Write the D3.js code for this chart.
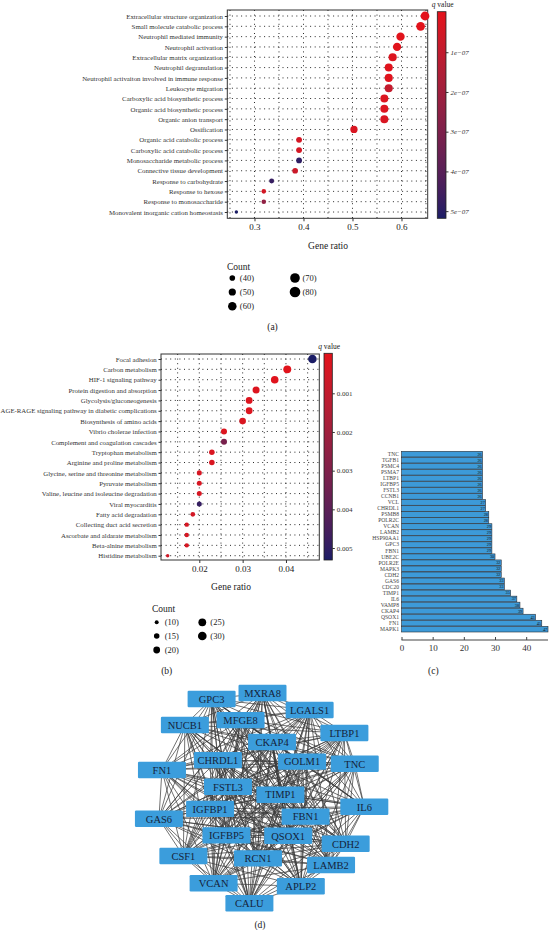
<!DOCTYPE html>
<html><head><meta charset="utf-8">
<script src="https://cdn.jsdelivr.net/npm/d3@7"></script>
<style>
body{margin:0;background:#fff}
svg{display:block}
text{font-family:"Liberation Serif","DejaVu Serif",serif}
</style>
</head><body>
<svg id="fig" width="549" height="930"></svg>
<script>
// ---------------- Panel (a): GO enrichment ----------------
const goTerms = ["Extracellular structure organization","Small molecule catabolic process","Neutrophil mediated immunity","Neutrophil activation","Extracellular matrix organization","Neutrophil degranulation","Neutrophil activaiton involved in immune response","Leukocyte migration","Carboxylic acid biosynthetic process","Organic acid biosynthetic process","Organic anion transport","Ossification","Organic acid catabolic process","Carboxylic acid catabolic process","Monosaccharide metabolic process","Connective tissue development","Response to carbohydrate","Response to hexose","Response to monosaccharide","Monovalent inorganic cation homeostasis"];
const goRatio = [0.648,0.639,0.598,0.591,0.582,0.574,0.574,0.574,0.565,0.565,0.565,0.503,0.391,0.391,0.391,0.383,0.335,0.319,0.319,0.263];
const goCount = [81,80,75,74,73,72,72,72,71,71,71,63,49,49,49,48,42,40,40,33];
const goQ = [1e-9,2e-9,5e-9,5e-9,2e-8,1e-8,1e-8,9e-8,2e-8,2e-8,3e-8,3e-8,4e-8,4e-8,4.9e-7,7e-8,4.75e-7,5e-8,2.4e-7,5.18e-7];
const goXTicks = [0.3,0.4,0.5,0.6];
const goGrid = [0.25,0.3,0.35,0.4,0.45,0.5,0.55,0.6,0.65];
const goQTicks = [1e-7,2e-7,3e-7,4e-7,5e-7];
const goQLabels = ["1e\u221207","2e\u221207","3e\u221207","4e\u221207","5e\u221207"];
const goLegendCounts = [40,50,60,70,80];

// ---------------- Panel (b): KEGG enrichment ----------------
const keggTerms = ["Focal adhesion","Carbon metabolism","HIF-1 signaling pathway","Protein digestion and absorption","Glycolysis/gluconeogenesis","AGE-RAGE signaling pathway in diabetic complications","Biosynthesis of amino acids","Vibrio cholerae infection","Complement and coagulation cascades","Tryptophan metabolism","Arginine and proline metabolism","Glycine, serine and threonine metabolism","Pyruvate metabolism","Valine, leucine and isoleucine degradation","Viral myocarditis","Fatty acid degradation","Collecting duct acid secretion","Ascorbate and aldarate metabolism","Beta-alnine metabolism","Histidine metabolism"];
const keggRatio = [0.0461,0.0403,0.0374,0.0331,0.0315,0.0315,0.0300,0.0257,0.0257,0.0229,0.0229,0.0200,0.0200,0.0200,0.0200,0.0185,0.0171,0.0171,0.0171,0.0127];
const keggCount = [32,28,26,23,22,22,21,18,18,16,16,14,14,14,14,13,12,12,12,9];
const keggQ = [0.0053,0.00005,0.0001,0.0002,0.0002,0.0002,0.0003,0.0002,0.0032,0.0003,0.0003,0.0004,0.0004,0.0004,0.0049,0.0005,0.0004,0.0004,0.0004,0.0006];
const keggXTicks = [0.02,0.03,0.04];
const keggGrid = [0.015,0.02,0.025,0.03,0.035,0.04,0.045];
const keggQTicks = [0.001,0.002,0.003,0.004,0.005];
const keggQLabels = ["0.001","0.002","0.003","0.004","0.005"];
const keggLegendCounts = [10,15,20,25,30];

// ---------------- Panel (c): hub gene degree ----------------
const hubGenes = ["TNC","TGFB1","PSMC4","PSMA7","LTBP1","IGFBP5","FSTL3","CCNB1","VCL","CHRDL1","PSMB8","POLR2C","VCAN","LAMB2","HSP90AA1","GPC3","FBN1","UBE2C","POLR2E","MAPK3","CDH2","GAS6","CDC20","TIMP1","IL6","VAMP8","CKAP4","QSOX1","FN1","MAPK1"];
const hubDegree = [26,26,26,26,26,26,26,26,27,27,28,28,29,29,29,29,29,30,32,32,32,33,33,35,37,38,39,43,45,47];
const hubTicks = [0,10,20,30,40];

// ---------------- Panel (d): PPI network (layout units 0-100) ----------------
const netNodes = ["GPC3","MXRA8","LGALS1","NUCB1","MFGE8","LTBP1","CKAP4","CHRDL1","GOLM1","TNC","FN1","FSTL3","TIMP1","IL6","IGFBP1","GAS6","FBN1","IGFBP5","QSOX1","CDH2","CSF1","RCN1","LAMB2","VCAN","APLP2","CALU"];
const netX = [30.0,50.2,68.9,19.4,41.5,82.7,54.0,32.5,65.9,86.8,10.3,36.5,57.3,90.6,29.4,9.1,67.3,35.9,60.4,83.2,18.8,48.4,77.4,30.8,65.4,45.0];
const netY = [4.2,1.4,9.3,16.3,14.0,20.0,24.2,32.6,33.3,34.3,37.2,45.0,48.7,54.3,55.3,59.9,58.9,67.6,67.8,71.5,77.2,78.3,81.4,89.9,91.3,99.2];

const RED = "#e3121b", NAVY = "#1b1d66";
const svg = d3.select("#fig");

function dotPanel(cfg){
  const g = svg.append("g");
  const x = d3.scaleLinear().domain(cfg.xDomain).range([cfg.x0, cfg.x1]);
  const y = d3.scalePoint().domain(cfg.terms).range([cfg.rowTop, cfg.rowBot]);
  const area = d3.scaleLinear().domain(cfg.countDomain).range(cfg.areaRange);
  const r = c => Math.sqrt(Math.max(area(c), 0.5));
  const col = d3.scaleLinear().domain(cfg.colDomain).range([RED, NAVY]).interpolate(d3.interpolateLab).clamp(true);

  // grid
  g.append("g").selectAll("line").data(cfg.terms).join("line")
    .attr("x1", cfg.x0).attr("x2", cfg.x1).attr("y1", d => y(d)).attr("y2", d => y(d))
    .attr("stroke", "#111").attr("stroke-width", 0.9).attr("stroke-dasharray", "1 3.6");
  g.append("g").selectAll("line").data(cfg.grid).join("line")
    .attr("x1", d => x(d)).attr("x2", d => x(d)).attr("y1", cfg.y0).attr("y2", cfg.y1)
    .attr("stroke", "#111").attr("stroke-width", 0.9).attr("stroke-dasharray", "1 3.6");
  // border
  g.append("rect").attr("x", cfg.x0).attr("y", cfg.y0).attr("width", cfg.x1 - cfg.x0).attr("height", cfg.y1 - cfg.y0)
    .attr("fill", "none").attr("stroke", "#333").attr("stroke-width", 1);
  // dots
  const data = cfg.terms.map((t, i) => ({t, v: cfg.ratio[i], c: cfg.count[i], q: cfg.q[i]}));
  g.append("g").selectAll("circle").data(data).join("circle")
    .attr("cx", d => x(d.v)).attr("cy", d => y(d.t)).attr("r", d => r(d.c)).attr("fill", d => col(d.q));
  // y axis
  const ya = g.append("g").attr("transform", `translate(${cfg.x0},0)`).call(d3.axisLeft(y).tickSize(2.5).tickPadding(1.8));
  ya.select(".domain").remove();
  ya.selectAll("line").attr("stroke", "#333");
  ya.selectAll("text").attr("font-size", cfg.labelSize).attr("fill", "#333");
  // x axis
  const xa = g.append("g").attr("transform", `translate(0,${cfg.y1})`).call(d3.axisBottom(x).tickValues(cfg.xTicks).tickFormat(d3.format(cfg.fmt)).tickSize(3).tickPadding(2.5));
  xa.select(".domain").remove();
  xa.selectAll("line").attr("stroke", "#333");
  xa.selectAll("text").attr("font-size", 9).attr("fill", "#222");
  g.append("text").attr("x", cfg.titleX).attr("y", cfg.titleY).attr("text-anchor", "middle").attr("font-size", 9.5).attr("fill", "#222").text("Gene ratio");

  // colorbar
  const cb = cfg.cbar;
  const cy = d3.scaleLinear().domain(cb.domain).range([cb.top, cb.bottom]);
  const gid = "grad" + cfg.id;
  const grad = svg.append("defs").append("linearGradient").attr("id", gid).attr("x1", 0).attr("x2", 0).attr("y1", 0).attr("y2", 1);
  d3.range(0, 1.0001, 0.05).forEach(t => {
    const q = cb.domain[0] + t * (cb.domain[1] - cb.domain[0]);
    grad.append("stop").attr("offset", t).attr("stop-color", col(q));
  });
  g.append("rect").attr("x", cb.x).attr("y", cb.top).attr("width", cb.w).attr("height", cb.bottom - cb.top)
    .attr("fill", `url(#${gid})`).attr("stroke", "#222").attr("stroke-width", 0.8);
  const ca = g.append("g").attr("transform", `translate(${cb.x + cb.w},0)`)
    .call(d3.axisRight(cy).tickValues(cb.ticks).tickFormat((d, i) => cb.labels[i]).tickSize(2.5).tickPadding(2));
  ca.select(".domain").remove();
  ca.selectAll("line").attr("stroke", "#333");
  ca.selectAll("text").attr("font-size", 7).attr("fill", "#333").attr("font-style", cb.italic ? "italic" : "normal");
  const qt = g.append("text").attr("x", cb.x + cb.w / 2 + 1).attr("y", cb.top - 4.5).attr("text-anchor", "middle").attr("font-size", 7.5).attr("fill", "#222");
  qt.append("tspan").attr("font-style", "italic").text("q");
  qt.append("tspan").text(" value");

  // size legend
  const lg = cfg.legend;
  g.append("text").attr("x", lg.x).attr("y", lg.y).attr("font-size", 9.5).attr("fill", "#222").text("Count");
  const items = cfg.legendCounts.map((c, i) => ({c, col: i < 3 ? 0 : 1, row: i < 3 ? i : i - 3}));
  const li = g.append("g").selectAll("g").data(items).join("g")
    .attr("transform", d => `translate(${lg.dotX[d.col]},${lg.rowY[d.row]})`);
  li.append("circle").attr("r", d => r(d.c) * lg.scale).attr("fill", "#000");
  li.append("text").attr("x", lg.textDx).attr("dy", "0.35em").attr("font-size", 8.5).attr("fill", "#222").text(d => `(${d.c})`);
}

dotPanel({
  id: "a", terms: goTerms, ratio: goRatio, count: goCount, q: goQ,
  xDomain: [0.2445, 0.6535], x0: 227.3, x1: 427.7, y0: 10, y1: 218.3, rowTop: 16, rowBot: 212,
  countDomain: [33, 81], areaRange: [2.9, 19.4], colDomain: [0, 5.18e-7],
  grid: goGrid, xTicks: goXTicks, fmt: ".1f", labelSize: 6.85,
  titleX: 328, titleY: 248.5,
  cbar: {x: 437.3, w: 8.7, top: 11.7, bottom: 218.3, domain: [-0.02e-7, 5.18e-7], ticks: goQTicks, labels: goQLabels, italic: true},
  legend: {x: 227, y: 270, dotX: [232.3, 295], rowY: [278, 292, 306.3], textDx: 7.5, scale: 1.22},
  legendCounts: goLegendCounts
});

dotPanel({
  id: "b", terms: keggTerms, ratio: keggRatio, count: keggCount, q: keggQ,
  xDomain: [0.01116, 0.04769], x0: 161, x1: 319.3, y0: 354, y1: 560, rowTop: 359, rowBot: 555.7,
  countDomain: [9, 32], areaRange: [2.9, 18.5], colDomain: [0, 0.0053],
  grid: keggGrid, xTicks: keggXTicks, fmt: ".2f", labelSize: 6.8,
  titleX: 231, titleY: 590,
  cbar: {x: 324, w: 8.3, top: 353.3, bottom: 560, domain: [-0.0000344, 0.00531], ticks: keggQTicks, labels: keggQLabels, italic: false},
  legend: {x: 152, y: 611.5, dotX: [156.7, 202.3], rowY: [622.3, 636, 650], textDx: 8, scale: 1.05},
  legendCounts: keggLegendCounts
});

// panel labels
const panelLabels = [["(a)", 272.5, 330], ["(b)", 166.7, 674], ["(c)", 433.3, 674], ["(d)", 260, 928]];
svg.append("g").selectAll("text").data(panelLabels).join("text")
  .attr("x", d => d[1]).attr("y", d => d[2]).attr("text-anchor", "middle").attr("font-size", 9.5).attr("fill", "#222").text(d => d[0]);

// ---------------- Panel (c) ----------------
(function(){
  const g = svg.append("g");
  const x = d3.scaleLinear().domain([0, 47]).range([401.5, 548]);
  const y = d3.scaleBand().domain(hubGenes).range([451.3, 632]).paddingInner(0.06);
  g.append("g").selectAll("rect").data(hubGenes).join("rect")
    .attr("x", x(0)).attr("y", d => y(d)).attr("width", (d, i) => x(hubDegree[i]) - x(0)).attr("height", y.bandwidth())
    .attr("fill", "#3d9ad8").attr("stroke", "#2b2f36").attr("stroke-width", 0.6);
  g.append("g").selectAll("text").data(hubGenes).join("text")
    .attr("x", (d, i) => x(hubDegree[i]) - 0.8).attr("y", d => y(d) + y.bandwidth() / 2).attr("dy", "0.35em")
    .attr("text-anchor", "end").attr("font-size", 4.3).attr("fill", "#111").text((d, i) => hubDegree[i]);
  const ya = g.append("g").attr("transform", `translate(${x(0)},0)`).call(d3.axisLeft(y).tickSize(0).tickPadding(2.5));
  ya.select(".domain").remove();
  ya.selectAll("text").attr("font-size", 5.6).attr("fill", "#444");
  const xa = g.append("g").attr("transform", "translate(0,640)").call(d3.axisBottom(x).tickValues(hubTicks).tickSize(3).tickPadding(2));
  xa.select(".domain").attr("stroke", "#444").attr("d", `M${x(0)},0H${x(47)}`);
  xa.selectAll("line").attr("stroke", "#444").attr("transform", "translate(0,-3)");
  xa.selectAll("text").attr("font-size", 9).attr("fill", "#333");
})();

// ---------------- Panel (d) ----------------
(function(){
  const g = svg.append("g");
  const sx = d3.scaleLinear().domain([0, 100]).range([136, 388]);
  const sy = d3.scaleLinear().domain([0, 100]).range([690, 905]);
  const nodes = netNodes.map((n, i) => ({n, x: sx(netX[i]), y: sy(netY[i])}));
  const links = d3.cross(d3.range(nodes.length), d3.range(nodes.length)).filter(([a, b]) => a < b);
  g.append("g").selectAll("line").data(links).join("line")
    .attr("x1", d => nodes[d[0]].x).attr("y1", d => nodes[d[0]].y)
    .attr("x2", d => nodes[d[1]].x).attr("y2", d => nodes[d[1]].y)
    .attr("stroke", "#3a3a3a").attr("stroke-width", 0.8).attr("stroke-opacity", 0.9);
  const ng = g.append("g").selectAll("g").data(nodes).join("g").attr("transform", d => `translate(${d.x},${d.y})`);
  ng.append("rect").attr("x", -24).attr("y", -8.2).attr("width", 48).attr("height", 16.4).attr("rx", 1.2)
    .attr("fill", "#3b9ddc");
  ng.append("text").attr("text-anchor", "middle").attr("dy", "0.36em").attr("font-size", 10.5).attr("fill", "#15233a").text(d => d.n);
})();
</script>
</body></html>
